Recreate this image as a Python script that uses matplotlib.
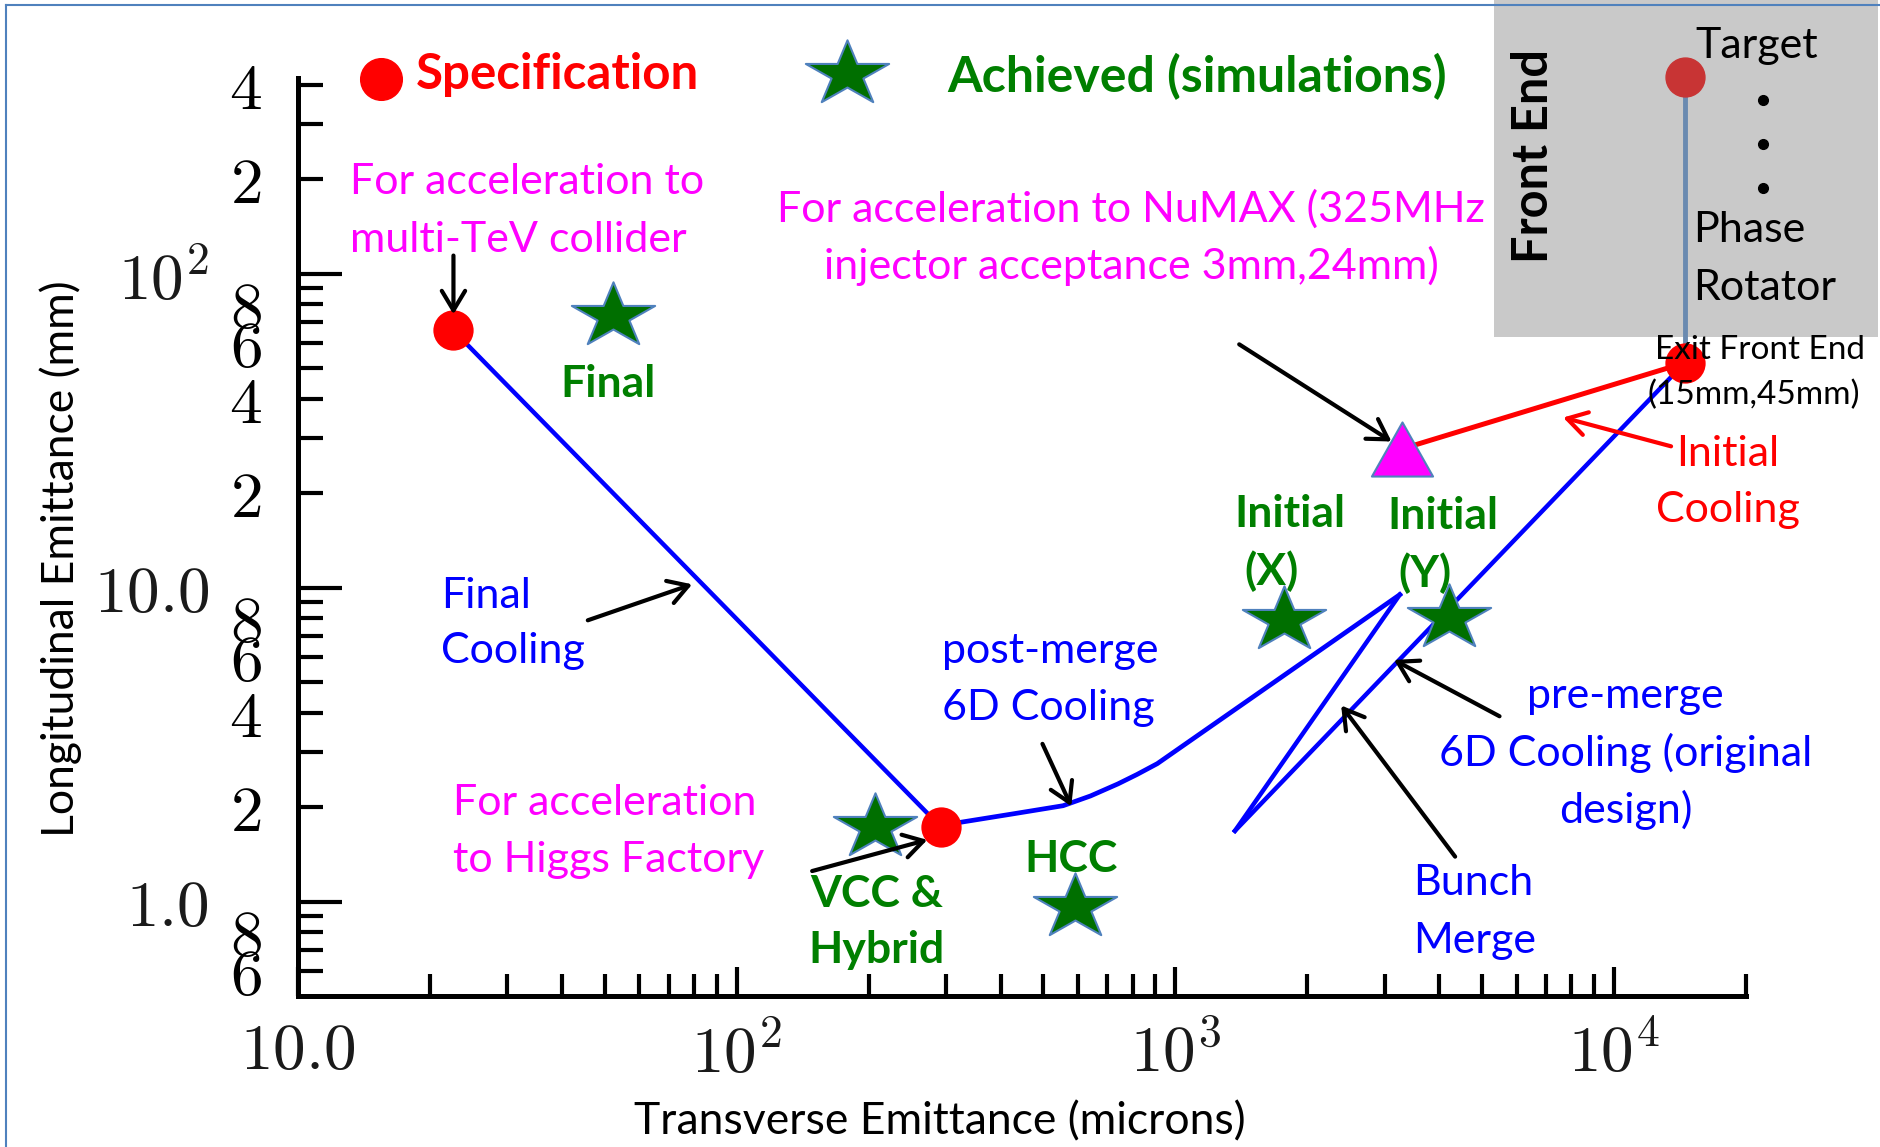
import numpy as np
import matplotlib.pyplot as plt
from matplotlib.path import Path
from matplotlib.patches import Rectangle

plt.rcParams['font.family'] = ['Lato', 'DejaVu Sans']
plt.rcParams['mathtext.fontset'] = 'cm'

# transverse emittance (microns) / longitudinal emittance (mm)
spec_x = [22.6, 292, 14500]
spec_y = [66, 1.73, 52]
achieved_x = [52.4, 207, 590, 1771, 4210]
achieved_y = [73.5, 1.73, 0.96, 7.9, 8.0]
numax_x = [3296]
numax_y = [27.7]

final_x = [22.6, 292]
final_y = [66, 1.73]
post_merge_x = [292, 325, 424, 555, 641, 740, 818, 910, 3250]
post_merge_y = [1.73, 1.79, 1.90, 2.02, 2.17, 2.37, 2.54, 2.75, 9.5]
bunch_merge_x = [3250, 1368]
bunch_merge_y = [9.5, 1.68]
pre_merge_x = [1368, 14500]
pre_merge_y = [1.68, 52]
initial_x = [3296, 14500]
initial_y = [27.7, 52]
front_end_x = [14500, 14500]
front_end_y = [423, 52]

x_major = [10, 100, 1000, 10000]
x_major_labels = [r'$\mathsf{10.0}$', r'$10^2$', r'$10^3$', r'$10^4$']
y_major = [1, 10, 100]
y_major_labels = [r'$\mathsf{1.0}$', r'$\mathsf{10.0}$', r'$10^2$']

BLUE = '#0000FF'
RED = '#FF0000'
MAGENTA = '#FF00FF'
GREEN = '#007F00'
STAR_GREEN = '#006F00'
EDGE = '#4F81BD'

# squashed five point star, like the slide shapes
ang = np.deg2rad(90 + 36 * np.arange(10))
rad = np.where(np.arange(10) % 2 == 0, 1.0, 0.382)
sv = np.column_stack([rad * np.cos(ang), 0.78 * rad * np.sin(ang)])
star = Path(np.vstack([sv, sv[:1]]), closed=True)
tri = Path([(0, 0.885), (-1, -0.885), (1, -0.885), (0, 0.885)], closed=True)

fig = plt.figure(figsize=(18.81, 11.47), dpi=100)
ax = fig.add_axes([0.1584, 0.1316, 0.7698, 0.8003])
ax.set_facecolor('none')
ax.set_xscale('log')
ax.set_yscale('log')
ax.set_xlim(10, 2e4)
ax.set_ylim(0.5, 420)

# ticks
x_minor = [m * 10 ** d for d in (1, 2, 3) for m in range(2, 10)] + [20000]
y_minor = [m / 10 for m in (6, 7, 8, 9)] + [m * 10 ** d for d in (0, 1) for m in range(2, 10)] + [200, 300, 400]
y_minor_labels = []
for v in y_minor:
    d = int(round(v / 10 ** np.floor(np.log10(v))))
    y_minor_labels.append(r'$\mathsf{%d}$' % d if d % 2 == 0 else '')

ax.set_xticks(x_major, x_major_labels)
ax.set_xticks(x_minor, [''] * len(x_minor), minor=True)
ax.set_yticks(y_major, y_major_labels)
ax.set_yticks(y_minor, y_minor_labels, minor=True)

ax.xaxis.set_tick_params(which='major', direction='in', length=21, width=3, pad=18, labelsize=47)
ax.xaxis.set_tick_params(which='minor', direction='in', length=16, width=3)
ax.yaxis.set_tick_params(which='major', direction='in', length=32, width=3, pad=64, labelsize=47)
ax.yaxis.set_tick_params(which='minor', direction='in', length=18, width=3, pad=26, labelsize=47)
ax.tick_params(labelcolor='#1a1a1a')
for s in ['top', 'right']:
    ax.spines[s].set_visible(False)
for s in ['left', 'bottom']:
    ax.spines[s].set_linewidth(3.6)

ax.set_xlabel('Transverse Emittance (microns)', fontsize=32)
ax.set_ylabel('Longitudinal Emittance (mm)', fontsize=32)
ax.xaxis.set_label_coords(0.443, -0.115)
ax.yaxis.set_label_coords(-0.149, 0.477)

# front end box
ax.add_patch(Rectangle((0.7943, 0.7062), 0.2041, 0.2938, transform=fig.transFigure,
                       facecolor='#C9C9C9', edgecolor='none', clip_on=False, zorder=0.5))
ax.plot(front_end_x, front_end_y, color='#6A8AB0', lw=3.5, clip_on=False, zorder=1)
ax.plot(front_end_x[:1], front_end_y[:1], 'o', color='#C83434', ms=28, clip_on=False, zorder=4)

# cooling channel
ax.plot(final_x, final_y, color=BLUE, lw=3.2, zorder=2)
ax.plot(post_merge_x, post_merge_y, color=BLUE, lw=3.4, zorder=2)
ax.plot(bunch_merge_x, bunch_merge_y, color=BLUE, lw=3.2, zorder=2)
ax.plot(pre_merge_x, pre_merge_y, color=BLUE, lw=3.2, zorder=2)
ax.plot(initial_x, initial_y, color=RED, lw=3.6, zorder=2)

ax.plot(numax_x, numax_y, ls='none', marker=tri, ms=44, mfc=MAGENTA, mec=EDGE, mew=1.5, zorder=4)
ax.plot(achieved_x, achieved_y, ls='none', marker=star, ms=60, mfc=STAR_GREEN, mec=EDGE, mew=1.5,
        zorder=4, clip_on=False)
ax.plot(spec_x, spec_y, ls='none', marker='o', ms=29, mfc=RED, mec='none', zorder=5, clip_on=False)

W, H = 1568, 956
FS = 31
GB = 32


def put(x, y, lines, dy=47, **kw):
    for i, s in enumerate(lines):
        fig.text(x / W, 1 - (y + i * dy) / H, s, va='center', **kw)


def arrow(tail, head, color='k'):
    ax.annotate('', xy=(head[0] / W, 1 - head[1] / H), xytext=(tail[0] / W, 1 - tail[1] / H),
                xycoords='figure fraction', textcoords='figure fraction',
                arrowprops=dict(arrowstyle='->,head_length=0.5,head_width=0.3', lw=3, color=color,
                                mutation_scale=28, shrinkA=0, shrinkB=0),
                annotation_clip=False, zorder=6)


# legend
ax.plot([318 / W], [1 - 66 / H], 'o', ms=30, color=RED, transform=fig.transFigure, clip_on=False)
ax.plot([706 / W], [1 - 62 / H], ls='none', marker=star, ms=60, mfc=STAR_GREEN, mec=EDGE, mew=1.5,
        transform=fig.transFigure, clip_on=False)
put(347, 62, ['Specification'], color=RED, fontsize=35.5, fontweight='bold')
put(790, 64, ['Achieved (simulations)'], color=GREEN, fontsize=36, fontweight='bold')

# annotations
put(292, 152, ['For acceleration to', 'multi-TeV collider'], dy=48, color=MAGENTA, fontsize=FS)
arrow((378, 213), (378, 262))
put(507, 320, ['Final'], color=GREEN, fontsize=GB, fontweight='bold', ha='center')
put(368, 497, ['Final', 'Cooling'], dy=46, color=BLUE, fontsize=FS)
arrow((490, 517), (577, 487))
put(378, 669, ['For acceleration', 'to Higgs Factory'], dy=48, color=MAGENTA, fontsize=FS)
arrow((677, 726), (773, 700))
put(731, 745, ['VCC &', 'Hybrid'], color=GREEN, fontsize=GB, fontweight='bold', ha='center')
put(893, 716, ['HCC'], color=GREEN, fontsize=GB, fontweight='bold', ha='center')
put(785, 543, ['post-merge', '6D Cooling'], color=BLUE, fontsize=FS)
arrow((869, 620), (893, 672))
put(943, 174, ['For acceleration to NuMAX (325MHz', 'injector acceptance 3mm,24mm)'], dy=48,
    color=MAGENTA, fontsize=FS, ha='center')
arrow((1033, 287), (1160, 368))
put(1075, 428, ['Initial'], color=GREEN, fontsize=GB, fontweight='bold', ha='center')
put(1060, 476, ['(X)'], color=GREEN, fontsize=GB, fontweight='bold', ha='center')
put(1203, 430, ['Initial'], color=GREEN, fontsize=GB, fontweight='bold', ha='center')
put(1188, 478, ['(Y)'], color=GREEN, fontsize=GB, fontweight='bold', ha='center')
put(1440, 378, ['Initial', 'Cooling'], color=RED, fontsize=FS, ha='center')
arrow((1393, 372), (1303, 348), color=RED)
put(1355, 580, ['pre-merge', '6D Cooling (original', 'design)'], dy=47.5, color=BLUE, fontsize=FS, ha='center')
arrow((1250, 597), (1162, 550))
put(1178, 736, ['Bunch', 'Merge'], dy=48, color=BLUE, fontsize=FS)
arrow((1213, 714), (1118, 588))

# front end labels
put(1380, 292, ['Exit Front End'], color='k', fontsize=24)
put(1373, 329, ['(15mm,45mm)'], color='k', fontsize=24)
put(1413, 38, ['Target'], color='k', fontsize=FS)
put(1411, 192, ['Phase', 'Rotator'], dy=48, color='k', fontsize=FS)
fig.text(1278 / W, 1 - 130 / H, 'Front End', rotation=90, ha='center', va='center',
         fontsize=35, fontweight='bold', color='k')
ax.plot([1470 / W] * 3, [1 - 83 / H, 1 - 120 / H, 1 - 157 / H], 'o', ls='none', ms=7, color='k',
        transform=fig.transFigure, clip_on=False)

# slide border
fig.add_artist(plt.Line2D([0.003, 0.003], [0, 0.996], color=EDGE, lw=1.5))
fig.add_artist(plt.Line2D([0.003, 1], [0.996, 0.996], color=EDGE, lw=1.5))

fig.savefig('out.png', dpi=100)
